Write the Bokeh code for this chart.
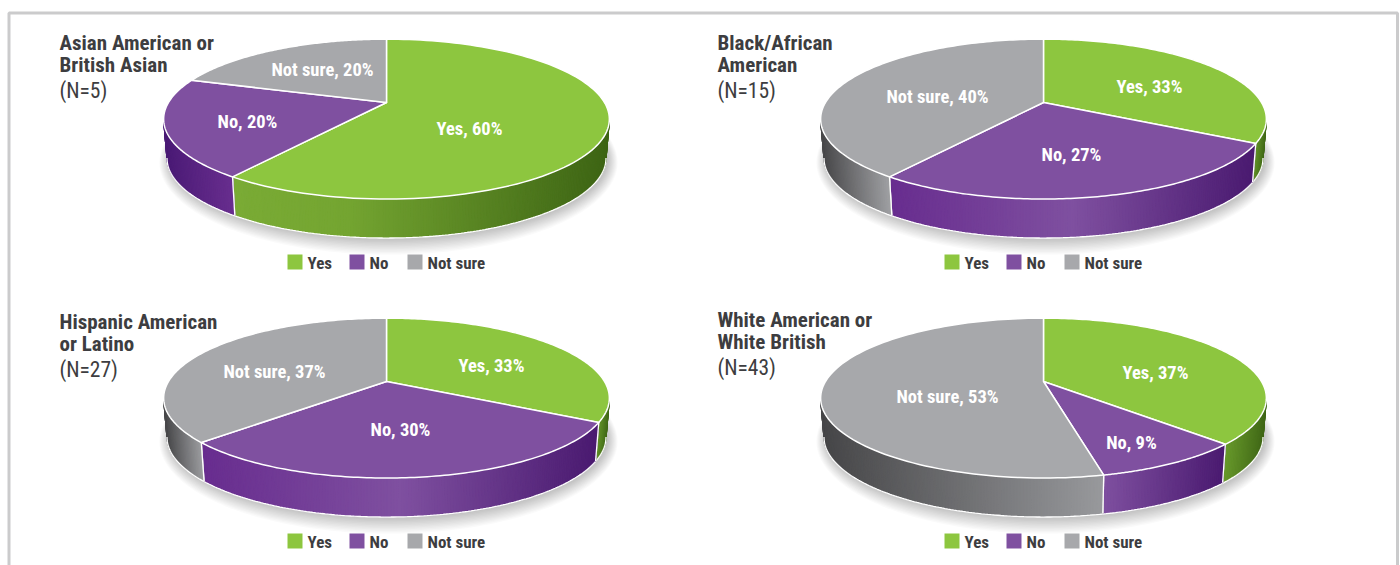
import numpy as np
from bokeh.plotting import figure
from bokeh.models import Range1d
from bokeh.core.properties import value
from bokeh.embed import file_html
from bokeh.resources import INLINE

# ---- data ----
categories = ["Yes", "No", "Not sure"]
panel_titles = [
    ["Asian American or", "British Asian"],
    ["Black/African", "American"],
    ["Hispanic American", "or Latino"],
    ["White American or", "White British"],
]
panel_n = ["(N=5)", "(N=15)", "(N=27)", "(N=43)"]
asian = [60, 20, 20]
black = [33, 27, 40]
hispanic = [33, 30, 37]
white = [37, 9, 53]
series = [asian, black, hispanic, white]

# ---- style / layout ----
TOP = ["#8dc63f", "#7f50a0", "#a7a8ab"]
CENTERS = [(386, 102), (1043, 102), (386, 381), (1043, 381)]
TITLE_X = [59, 717, 59, 717]
TITLE_Y = [(42, 64, 90), (42, 64, 90), (321, 343, 369), (319, 341, 367)]
LABEL_POS = [
    [(469, 128), (247, 121), (322, 69)],
    [(1149, 86), (1071, 154), (937, 96)],
    [(491, 365), (400, 429), (274, 371)],
    [(1155, 372), (1131, 442), (947, 396)],
]
SIDE = [
    [[(0, "#7aab35"), (.3, "#74a531"), (1, "#3d6414")], [(0, "#4a1a75"), (1, "#6a2f90")], None],
    [[(0, "#6a9c2c"), (1, "#3f6616")], [(0, "#682d8f"), (.5, "#7f50a0"), (1, "#4a1a70")], [(0, "#48484a"), (1, "#a3a4a7")]],
    [[(0, "#6a9c2c"), (1, "#3f6616")], [(0, "#682d8f"), (.5, "#7f50a0"), (1, "#4a1a70")], [(0, "#48484a"), (1, "#a3a4a7")]],
    [[(0, "#6a9c2c"), (1, "#3f6616")], [(0, "#7f50a0"), (1, "#4a1a70")], [(0, "#464648"), (1, "#98999c")]],
]
FONT = value("Roboto Condensed")
INK = "#3d3d40"
K, Y_SCALE, X_SCALE = 0.2075, 76.5, 218.0
DEPTH, BOTTOM_X = 38.5, 0.985


def ring(a, cx, cy, sx=1.0, dy=0.0):
    w = 1 + K * np.cos(a)
    return cx + sx * X_SCALE * np.sin(a) / w, cy - Y_SCALE * np.cos(a) / w + dy


def hex_rgb(c):
    return np.array([int(c[i:i + 2], 16) for i in (1, 3, 5)], float)


def mix(stops, t):
    fr = [s[0] for s in stops]
    rgb = np.array([hex_rgb(s[1]) for s in stops])
    v = [int(round(np.interp(t, fr, rgb[:, i]))) for i in range(3)]
    return "#%02x%02x%02x" % tuple(v)


p = figure(width=1400, height=565, x_range=Range1d(0, 1400), y_range=Range1d(565, 0),
           toolbar_location=None, output_backend="svg", min_border=0,
           outline_line_color=None, background_fill_color="white")
p.axis.visible = False
p.grid.visible = False

# panel border
p.line([8.5, 8.5, 1397, 1397], [565, 12.5, 12.5, 565], line_color="#cbcbcc", line_width=3)

A_RIGHT, A_LEFT = np.arccos(-K), 2 * np.pi - np.arccos(-K)
full = np.linspace(0, 2 * np.pi, 241)

for idx, vals in enumerate(series):
    cx, cy = CENTERS[idx]
    # soft shadow
    for i in range(12):
        grow = 1 + i * 0.004
        sx_, sy_ = ring(full, cx, cy, BOTTOM_X * grow, DEPTH + 2)
        sy_ = (sy_ - (cy + DEPTH)) * (1 + i * 0.014) + cy + DEPTH
        p.patch(sx_ + 2, sy_, fill_color="#000000", fill_alpha=0.02, line_color=None)

    total = sum(vals)
    edges = np.cumsum([0] + list(vals)) / total * 2 * np.pi

    # side wall
    for s in range(3):
        a0, a1 = max(edges[s], A_RIGHT), min(edges[s + 1], A_LEFT)
        if a1 <= a0:
            continue
        stops = SIDE[idx][s]
        if stops is None:
            continue
        n = max(2, int((a1 - a0) / np.radians(0.7)))
        aa = np.linspace(a0, a1, n + 1)
        tx, ty = ring(aa, cx, cy)
        bx, by = ring(aa, cx, cy, BOTTOM_X, DEPTH)
        lo, hi = min(tx.min(), bx.min()), max(tx.max(), bx.max())
        xs, ys, cols = [], [], []
        for j in range(n):
            xs.append([tx[j], tx[j + 1], bx[j + 1], bx[j]])
            ys.append([ty[j], ty[j + 1], by[j + 1], by[j]])
            cols.append(mix(stops, ((tx[j] + tx[j + 1]) / 2 - lo) / (hi - lo)))
        p.patches(xs, ys, fill_color=cols, line_color=cols, line_width=1.2)
        # white rim on the wall
        p.line(bx, by + 0.5, line_color="white", line_width=1.3)
        for a_e in (edges[s], edges[s + 1]):
            if A_RIGHT < a_e < A_LEFT:
                x0, y0 = ring(a_e, cx, cy)
                x1, y1 = ring(a_e, cx, cy, BOTTOM_X, DEPTH)
                p.line([x0, x1], [y0, y1], line_color="white", line_width=1.3)

    # top face
    for s in range(3):
        aa = np.linspace(edges[s], edges[s + 1], 120)
        x, y = ring(aa, cx, cy)
        p.patch(np.r_[cx, x], np.r_[cy, y], fill_color=TOP[s],
                line_color="white", line_width=1.5, line_join="round")

    # slice labels
    for s in range(3):
        lx, ly = LABEL_POS[idx][s]
        p.text([lx], [ly], text=[f"{categories[s]}, {vals[s]}%"], text_font=FONT,
               text_font_style="bold", text_font_size="18.5px", text_color="white",
               text_align="center", text_baseline="middle")

    # title
    tx0 = TITLE_X[idx]
    for line, ty_ in zip(panel_titles[idx], TITLE_Y[idx][:2]):
        p.text([tx0], [ty_], text=[line], text_font=FONT, text_font_style="bold",
               text_font_size="21px", text_color=INK, text_align="left", text_baseline="middle")
    p.text([tx0], [TITLE_Y[idx][2]], text=[panel_n[idx]], text_font=FONT,
           text_font_size="21.5px", text_color=INK, text_align="left", text_baseline="middle")

    # legend
    ly = cy + 160
    for s, off in enumerate((-99, -37, 21)):
        p.quad(left=[cx + off], right=[cx + off + 15], top=[ly - 8], bottom=[ly + 7],
               fill_color=TOP[s], line_color=None)
        p.text([cx + off + 20], [ly], text=[categories[s]], text_font=FONT, text_font_style="bold",
               text_font_size="17px", text_color=INK, text_align="left", text_baseline="middle")

open("out.html", "w").write(file_html(p, INLINE))
